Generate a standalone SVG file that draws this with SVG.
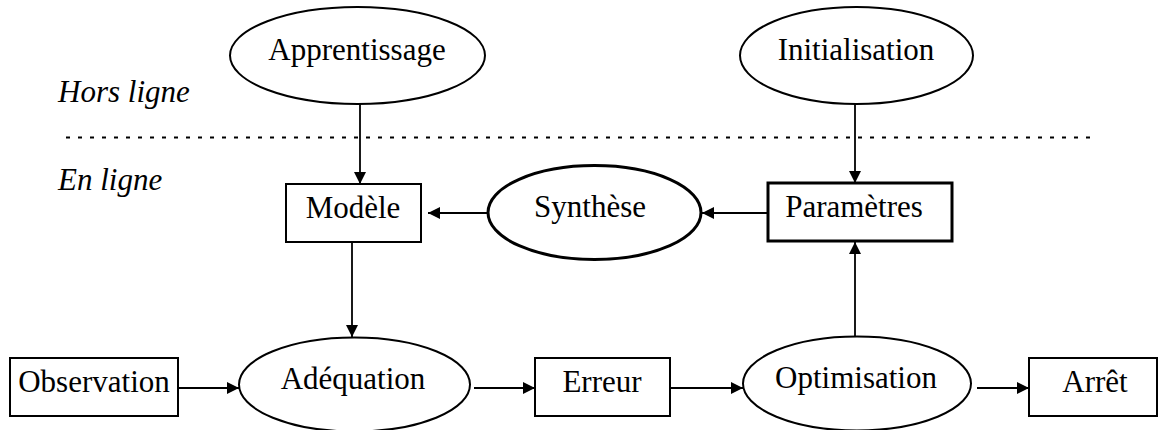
<svg xmlns="http://www.w3.org/2000/svg" width="1158" height="430" viewBox="0 0 1158 430">
<style>
text{font-family:"Liberation Serif","Times New Roman",serif;font-size:31px;fill:#000;text-anchor:middle}
.lab{font-style:italic;text-anchor:start}
.sh{fill:#fff;stroke:#000;stroke-width:2}
.thick{stroke-width:3}
.c{stroke:#000;stroke-width:1.8;fill:none;marker-end:url(#ah)}
</style>
<defs>
<marker id="ah" viewBox="0 0 12 12" refX="12" refY="6" markerWidth="12" markerHeight="12" markerUnits="userSpaceOnUse" orient="auto">
<path d="M0,0 L12,6 L0,12 Z" fill="#000"/>
</marker>
</defs>
<text class="lab" x="58" y="102">Hors ligne</text>
<text class="lab" x="58" y="190">En ligne</text>
<line x1="66" y1="137.5" x2="1094" y2="137.5" stroke="#000" stroke-width="2" stroke-dasharray="4 8"/>
<g id="connectors">
<line class="c" x1="360" y1="104" x2="360" y2="184"/>
<line class="c" x1="855" y1="104" x2="855" y2="183"/>
<line class="c" x1="488" y1="213" x2="428" y2="213"/>
<line class="c" x1="768" y1="213" x2="702" y2="213"/>
<line class="c" x1="352" y1="242" x2="352" y2="337"/>
<line class="c" x1="855" y1="336" x2="855" y2="242"/>
<line class="c" x1="178" y1="388" x2="239" y2="388"/>
<line class="c" x1="474" y1="388" x2="535" y2="388"/>
<line class="c" x1="670" y1="388" x2="743" y2="388"/>
<line class="c" x1="977" y1="388" x2="1029" y2="388"/>
</g>
<g id="apprentissage">
<ellipse class="sh" cx="357.5" cy="55.5" rx="127.5" ry="48.5"/>
<text x="357" y="60">Apprentissage</text>
</g>
<g id="initialisation">
<ellipse class="sh" cx="856.5" cy="55.5" rx="116.5" ry="48.5"/>
<text x="856" y="60">Initialisation</text>
</g>
<g id="modele">
<rect class="sh" x="286" y="184" width="135" height="58"/>
<text x="353" y="218">Modèle</text>
</g>
<g id="synthese">
<ellipse class="sh thick" cx="594.5" cy="212.5" rx="106.5" ry="47"/>
<text x="590" y="217">Synthèse</text>
</g>
<g id="parametres">
<rect class="sh thick" x="768" y="183" width="184" height="58"/>
<text x="854" y="217">Paramètres</text>
</g>
<g id="observation">
<rect class="sh" x="10" y="358" width="168" height="58"/>
<text x="94" y="392">Observation</text>
</g>
<g id="adequation">
<ellipse class="sh" cx="354.5" cy="384.5" rx="115.5" ry="47"/>
<text x="353" y="389">Adéquation</text>
</g>
<g id="erreur">
<rect class="sh" x="535" y="358" width="135" height="58"/>
<text x="602" y="392">Erreur</text>
</g>
<g id="optimisation">
<ellipse class="sh" cx="857" cy="383.5" rx="114" ry="47"/>
<text x="856" y="388">Optimisation</text>
</g>
<g id="arret">
<rect class="sh" x="1029" y="358" width="128" height="58"/>
<text x="1095" y="392">Arrêt</text>
</g>
</svg>
